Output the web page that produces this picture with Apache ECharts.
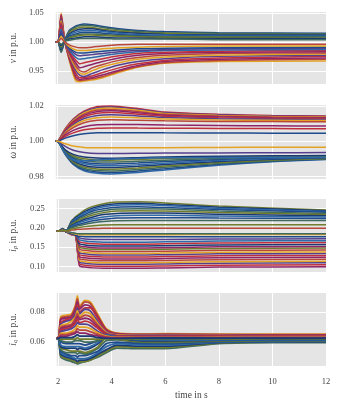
<!DOCTYPE html>
<html><head><meta charset="utf-8">
<script src="https://cdn.jsdelivr.net/npm/echarts@6/dist/echarts.min.js"></script>
<style>html,body{margin:0;padding:0;background:#fff}#c{width:341px;height:412px}</style>
</head><body><div id="c"></div>
<script>
// ---- time axes (s) ----
const xTicks = [2, 4, 6, 8, 10, 12];
const timeV  = [1.95, 2.03, 2.15, 2.28, 2.45, 2.7, 2.85, 3.0, 3.3, 3.7, 4.3, 5.0, 6.0, 8.0, 12.0];
const timeW  = [1.95, 2.05, 2.3, 2.6, 3.0, 3.5, 4.0, 5.0, 6.0, 8.0, 10.0, 12.0];
const timeIp = [1.95, 2.05, 2.15, 2.3, 2.5, 2.65, 2.72, 2.8, 3.0, 3.3, 3.7, 4.2, 5.0, 6.0, 8.0, 12.0];
const timeIq = [1.95, 2.03, 2.1, 2.3, 2.5, 2.65, 2.72, 2.8, 3.0, 3.2, 3.5, 3.8, 4.2, 5.0, 6.0, 8.0, 10.0, 12.0];

// ---- tick labels ----
const vTicks  = [0.95, 1.00, 1.05];
const wTicks  = [0.98, 1.00, 1.02];
const ipTicks = [0.10, 0.15, 0.20, 0.25];
const iqTicks = [0.06, 0.08];

// ---- v in p.u. ----
const vTraces = [
 [1.000,1.000,0.982,1.002,1.020,1.028,1.030,1.031,1.030,1.027,1.023,1.020,1.018,1.016,1.015],
 [1.000,1.000,1.050,1.003,0.968,0.932,0.931,0.932,0.934,0.938,0.947,0.956,0.963,0.966,0.967],
 [1.000,1.000,0.983,1.002,1.018,1.026,1.028,1.029,1.028,1.025,1.021,1.018,1.016,1.015,1.014],
 [1.000,1.000,1.048,1.003,0.970,0.936,0.933,0.934,0.936,0.940,0.949,0.957,0.964,0.968,0.970],
 [1.000,1.000,0.985,1.002,1.016,1.023,1.025,1.026,1.025,1.022,1.019,1.016,1.015,1.013,1.013],
 [1.000,1.000,1.046,1.002,0.972,0.940,0.935,0.936,0.938,0.943,0.951,0.959,0.966,0.970,0.972],
 [1.000,1.000,0.986,1.002,1.014,1.020,1.022,1.023,1.023,1.020,1.017,1.015,1.013,1.012,1.012],
 [1.000,1.000,1.043,1.002,0.974,0.945,0.938,0.938,0.941,0.947,0.955,0.962,0.968,0.972,0.975],
 [1.000,1.000,0.988,1.002,1.012,1.017,1.019,1.020,1.020,1.018,1.015,1.013,1.012,1.011,1.011],
 [1.000,1.000,1.040,1.002,0.976,0.950,0.942,0.940,0.945,0.952,0.960,0.966,0.971,0.975,0.977],
 [1.000,1.000,0.989,1.002,1.010,1.014,1.016,1.017,1.017,1.015,1.013,1.011,1.010,1.010,1.010],
 [1.000,1.000,1.037,1.002,0.978,0.954,0.946,0.944,0.950,0.957,0.964,0.970,0.974,0.977,0.979],
 [1.000,1.000,0.990,1.002,1.008,1.012,1.013,1.014,1.014,1.013,1.011,1.010,1.009,1.009,1.009],
 [1.000,1.000,1.034,1.001,0.980,0.958,0.950,0.948,0.955,0.961,0.968,0.973,0.977,0.980,0.981],
 [1.000,1.000,0.992,1.002,1.007,1.010,1.011,1.012,1.012,1.011,1.010,1.009,1.008,1.008,1.007],
 [1.000,1.000,1.030,1.001,0.982,0.963,0.955,0.957,0.961,0.966,0.972,0.977,0.980,0.982,0.983],
 [1.000,1.000,0.994,1.001,1.005,1.007,1.008,1.009,1.009,1.008,1.007,1.007,1.006,1.006,1.006],
 [1.000,1.000,1.026,1.001,0.984,0.968,0.962,0.964,0.967,0.971,0.976,0.980,0.982,0.984,0.985],
 [1.000,1.000,1.022,1.001,0.986,0.973,0.970,0.971,0.973,0.976,0.980,0.983,0.985,0.986,0.987],
 [1.000,1.000,1.018,1.000,0.988,0.978,0.976,0.977,0.978,0.980,0.983,0.985,0.987,0.988,0.989],
 [1.000,1.000,1.014,1.000,0.990,0.982,0.981,0.981,0.982,0.984,0.986,0.988,0.989,0.990,0.991],
 [1.000,1.000,1.010,1.000,0.992,0.986,0.985,0.985,0.986,0.988,0.990,0.991,0.992,0.993,0.993],
 [1.000,1.000,0.996,1.001,1.003,1.005,1.006,1.006,1.006,1.006,1.005,1.005,1.005,1.004,1.004],
 [1.000,1.000,1.006,1.000,0.995,0.991,0.990,0.990,0.991,0.993,0.995,0.996,0.996,0.996,0.996]
];

// ---- omega in p.u. ----
const wTraces = [
 [1.0,1.0004,1.0070,1.0125,1.0170,1.0196,1.0200,1.0185,1.0165,1.0152,1.0146,1.0143],
 [1.0,0.9994,0.9925,0.9868,0.9832,0.9817,0.9814,0.9822,0.9836,0.9863,0.9883,0.9895],
 [1.0,1.0004,1.0068,1.0121,1.0165,1.0190,1.0194,1.0180,1.0161,1.0149,1.0143,1.0140],
 [1.0,0.9994,0.9927,0.9872,0.9838,0.9825,0.9822,0.9830,0.9843,0.9868,0.9886,0.9897],
 [1.0,1.0004,1.0066,1.0117,1.0160,1.0184,1.0188,1.0175,1.0157,1.0146,1.0140,1.0137],
 [1.0,0.9995,0.9929,0.9877,0.9845,0.9833,0.9831,0.9839,0.9851,0.9873,0.9889,0.9900],
 [1.0,1.0004,1.0063,1.0112,1.0153,1.0176,1.0180,1.0168,1.0152,1.0142,1.0137,1.0134],
 [1.0,0.9995,0.9932,0.9883,0.9853,0.9842,0.9840,0.9848,0.9859,0.9878,0.9893,0.9902],
 [1.0,1.0003,1.0060,1.0107,1.0146,1.0168,1.0172,1.0161,1.0147,1.0138,1.0133,1.0131],
 [1.0,0.9995,0.9935,0.9889,0.9862,0.9851,0.9850,0.9857,0.9867,0.9884,0.9897,0.9905],
 [1.0,1.0003,1.0057,1.0101,1.0138,1.0158,1.0162,1.0153,1.0141,1.0133,1.0129,1.0127],
 [1.0,0.9996,0.9938,0.9896,0.9871,0.9861,0.9860,0.9866,0.9875,0.9890,0.9901,0.9907],
 [1.0,1.0003,1.0053,1.0094,1.0128,1.0146,1.0150,1.0143,1.0134,1.0127,1.0124,1.0122],
 [1.0,0.9996,0.9941,0.9903,0.9880,0.9871,0.9870,0.9876,0.9884,0.9896,0.9905,0.9910],
 [1.0,1.0003,1.0048,1.0086,1.0117,1.0133,1.0137,1.0132,1.0126,1.0120,1.0118,1.0117],
 [1.0,0.9996,0.9944,0.9910,0.9890,0.9882,0.9881,0.9886,0.9892,0.9902,0.9909,0.9912],
 [1.0,1.0002,1.0043,1.0077,1.0104,1.0118,1.0121,1.0118,1.0115,1.0112,1.0111,1.0110],
 [1.0,0.9997,0.9947,0.9917,0.9900,0.9893,0.9892,0.9896,0.9901,0.9908,0.9913,0.9915],
 [1.0,1.0002,1.0034,1.0061,1.0082,1.0093,1.0095,1.0094,1.0092,1.0089,1.0087,1.0086],
 [1.0,0.9997,0.9950,0.9925,0.9910,0.9904,0.9903,0.9906,0.9910,0.9914,0.9917,0.9918],
 [1.0,1.0001,1.0026,1.0047,1.0064,1.0073,1.0075,1.0074,1.0073,1.0072,1.0071,1.0070],
 [1.0,0.9997,0.9930,0.9893,0.9888,0.9893,0.9897,0.9902,0.9905,0.9907,0.9908,0.9908],
 [1.0,0.9998,0.9970,0.9948,0.9935,0.9930,0.9930,0.9931,0.9932,0.9933,0.9934,0.9935],
 [1.0,1.0001,1.0017,1.0031,1.0042,1.0047,1.0048,1.0048,1.0047,1.0046,1.0045,1.0045],
 [1.0,0.9999,0.9985,0.9972,0.9964,0.9962,0.9962,0.9963,0.9963,0.9964,0.9965,0.9965]
];

// ---- i_p in p.u. ----
const ipTraces = [
 [0.191,0.192,0.198,0.193,0.218,0.228,0.232,0.236,0.246,0.255,0.262,0.266,0.267,0.264,0.256,0.246],
 [0.191,0.192,0.193,0.190,0.182,0.179,0.140,0.102,0.099,0.097,0.096,0.096,0.096,0.097,0.099,0.100],
 [0.191,0.192,0.198,0.193,0.216,0.226,0.229,0.233,0.242,0.251,0.258,0.262,0.263,0.260,0.253,0.244],
 [0.191,0.192,0.193,0.190,0.183,0.180,0.142,0.107,0.104,0.102,0.101,0.101,0.101,0.102,0.104,0.105],
 [0.191,0.192,0.197,0.193,0.214,0.223,0.226,0.230,0.238,0.247,0.254,0.258,0.259,0.257,0.250,0.242],
 [0.191,0.192,0.193,0.190,0.183,0.180,0.145,0.112,0.109,0.107,0.106,0.106,0.106,0.107,0.109,0.110],
 [0.191,0.192,0.197,0.193,0.212,0.220,0.223,0.227,0.234,0.243,0.249,0.253,0.254,0.252,0.247,0.240],
 [0.191,0.192,0.193,0.190,0.183,0.180,0.147,0.116,0.113,0.111,0.110,0.110,0.110,0.111,0.113,0.114],
 [0.191,0.192,0.197,0.193,0.210,0.217,0.220,0.224,0.230,0.238,0.244,0.248,0.249,0.248,0.243,0.237],
 [0.191,0.192,0.193,0.190,0.183,0.181,0.150,0.121,0.118,0.116,0.115,0.115,0.115,0.116,0.118,0.119],
 [0.191,0.192,0.196,0.193,0.208,0.214,0.217,0.220,0.226,0.233,0.239,0.243,0.244,0.243,0.239,0.234],
 [0.191,0.192,0.193,0.190,0.184,0.181,0.153,0.126,0.123,0.121,0.120,0.120,0.120,0.121,0.123,0.124],
 [0.191,0.192,0.196,0.193,0.206,0.211,0.214,0.216,0.222,0.228,0.234,0.237,0.238,0.238,0.235,0.231],
 [0.191,0.192,0.193,0.190,0.184,0.181,0.155,0.131,0.128,0.126,0.125,0.125,0.125,0.126,0.128,0.129],
 [0.191,0.192,0.196,0.193,0.204,0.209,0.211,0.213,0.218,0.223,0.228,0.231,0.232,0.232,0.230,0.228],
 [0.191,0.192,0.193,0.190,0.184,0.182,0.158,0.136,0.133,0.131,0.130,0.130,0.130,0.131,0.133,0.134],
 [0.191,0.192,0.195,0.193,0.202,0.206,0.208,0.209,0.213,0.218,0.222,0.225,0.226,0.226,0.225,0.224],
 [0.191,0.192,0.193,0.190,0.184,0.182,0.160,0.140,0.137,0.135,0.134,0.134,0.134,0.135,0.137,0.138],
 [0.191,0.192,0.195,0.193,0.200,0.203,0.205,0.206,0.209,0.213,0.216,0.218,0.219,0.219,0.219,0.219],
 [0.191,0.192,0.193,0.190,0.185,0.182,0.163,0.145,0.142,0.140,0.139,0.139,0.139,0.140,0.142,0.143],
 [0.191,0.192,0.193,0.190,0.185,0.183,0.166,0.150,0.147,0.145,0.144,0.144,0.144,0.145,0.147,0.148],
 [0.191,0.192,0.193,0.190,0.185,0.183,0.168,0.154,0.151,0.149,0.148,0.148,0.148,0.149,0.151,0.152],
 [0.191,0.192,0.193,0.190,0.185,0.183,0.170,0.159,0.156,0.154,0.153,0.153,0.153,0.154,0.156,0.157],
 [0.191,0.192,0.193,0.190,0.186,0.184,0.173,0.164,0.161,0.159,0.158,0.158,0.158,0.159,0.161,0.162],
 [0.191,0.192,0.193,0.190,0.186,0.184,0.176,0.169,0.166,0.164,0.163,0.163,0.163,0.164,0.166,0.167],
 [0.191,0.192,0.193,0.190,0.186,0.184,0.178,0.174,0.171,0.170,0.170,0.170,0.170,0.170,0.171,0.172],
 [0.191,0.192,0.193,0.190,0.185,0.181,0.179,0.178,0.177,0.177,0.177,0.177,0.177,0.177,0.177,0.177],
 [0.191,0.192,0.193,0.191,0.187,0.184,0.183,0.182,0.182,0.182,0.182,0.182,0.182,0.182,0.183,0.183],
 [0.191,0.192,0.193,0.191,0.188,0.186,0.185,0.185,0.185,0.185,0.185,0.185,0.185,0.185,0.185,0.185],
 [0.191,0.192,0.194,0.192,0.194,0.195,0.196,0.196,0.197,0.198,0.199,0.199,0.199,0.199,0.199,0.199],
 [0.191,0.192,0.194,0.192,0.197,0.199,0.200,0.201,0.203,0.205,0.207,0.208,0.208,0.208,0.208,0.208]
];

// ---- i_q in p.u. ----
const iqTraces = [
 [0.0625,0.0640,0.077,0.078,0.079,0.085,0.091,0.084,0.088,0.087,0.078,0.0690,0.0660,0.0655,0.0656,0.0654,0.0653,0.0653],
 [0.0625,0.0614,0.050,0.048,0.047,0.046,0.0455,0.046,0.047,0.048,0.050,0.0530,0.0560,0.0556,0.0557,0.0590,0.0597,0.0597],
 [0.0625,0.0640,0.076,0.077,0.078,0.084,0.089,0.083,0.087,0.086,0.077,0.0685,0.0658,0.0652,0.0653,0.0651,0.0650,0.0650],
 [0.0625,0.0615,0.051,0.049,0.048,0.047,0.046,0.047,0.047,0.048,0.051,0.0540,0.0570,0.0565,0.0565,0.0594,0.0600,0.0600],
 [0.0625,0.0638,0.075,0.076,0.077,0.082,0.087,0.082,0.085,0.084,0.076,0.0680,0.0655,0.0650,0.0650,0.0649,0.0648,0.0648],
 [0.0625,0.0616,0.052,0.050,0.049,0.048,0.047,0.048,0.048,0.049,0.052,0.0550,0.0580,0.0573,0.0573,0.0597,0.0602,0.0602],
 [0.0625,0.0636,0.073,0.075,0.076,0.080,0.085,0.080,0.083,0.083,0.075,0.0675,0.0652,0.0648,0.0648,0.0647,0.0646,0.0646],
 [0.0625,0.0617,0.053,0.051,0.050,0.049,0.049,0.049,0.049,0.050,0.053,0.0570,0.0590,0.0582,0.0582,0.0600,0.0604,0.0605],
 [0.0625,0.0635,0.072,0.074,0.075,0.079,0.083,0.079,0.082,0.081,0.073,0.0670,0.0650,0.0646,0.0646,0.0645,0.0644,0.0644],
 [0.0625,0.0618,0.054,0.052,0.051,0.051,0.050,0.051,0.051,0.052,0.054,0.0590,0.0600,0.0592,0.0590,0.0603,0.0606,0.0607],
 [0.0625,0.0634,0.071,0.072,0.074,0.077,0.081,0.077,0.080,0.079,0.072,0.0665,0.0648,0.0644,0.0644,0.0643,0.0642,0.0642],
 [0.0625,0.0619,0.055,0.053,0.053,0.053,0.052,0.053,0.052,0.053,0.056,0.0610,0.0615,0.0600,0.0597,0.0606,0.0609,0.0609],
 [0.0625,0.0633,0.070,0.071,0.072,0.076,0.079,0.076,0.078,0.077,0.071,0.0660,0.0645,0.0642,0.0642,0.0641,0.0640,0.0640],
 [0.0625,0.0620,0.056,0.055,0.054,0.054,0.054,0.054,0.053,0.054,0.057,0.0630,0.0620,0.0605,0.0603,0.0609,0.0611,0.0611],
 [0.0625,0.0632,0.069,0.070,0.071,0.074,0.077,0.075,0.076,0.075,0.070,0.0655,0.0642,0.0640,0.0640,0.0639,0.0638,0.0638],
 [0.0625,0.0621,0.057,0.056,0.056,0.056,0.055,0.056,0.055,0.056,0.059,0.0640,0.0630,0.0610,0.0608,0.0612,0.0613,0.0613],
 [0.0625,0.0631,0.068,0.069,0.070,0.073,0.075,0.073,0.074,0.073,0.069,0.0650,0.0640,0.0638,0.0638,0.0637,0.0636,0.0636],
 [0.0625,0.0622,0.058,0.057,0.057,0.057,0.057,0.057,0.056,0.057,0.060,0.0650,0.0635,0.0614,0.0613,0.0615,0.0615,0.0615],
 [0.0625,0.0630,0.067,0.068,0.069,0.071,0.073,0.072,0.072,0.071,0.067,0.0645,0.0637,0.0636,0.0636,0.0635,0.0634,0.0634],
 [0.0625,0.0623,0.060,0.059,0.059,0.059,0.059,0.059,0.058,0.059,0.061,0.0640,0.0630,0.0617,0.0618,0.0618,0.0618,0.0618],
 [0.0625,0.0630,0.066,0.066,0.067,0.069,0.071,0.070,0.070,0.069,0.066,0.0640,0.0634,0.0634,0.0634,0.0633,0.0632,0.0632],
 [0.0625,0.0624,0.061,0.060,0.060,0.061,0.061,0.061,0.060,0.060,0.061,0.0630,0.0625,0.0620,0.0622,0.0621,0.0621,0.0621],
 [0.0625,0.0629,0.065,0.065,0.066,0.067,0.069,0.068,0.068,0.067,0.065,0.0635,0.0631,0.0632,0.0632,0.0631,0.0630,0.0630],
 [0.0625,0.0625,0.062,0.062,0.062,0.062,0.063,0.062,0.062,0.062,0.062,0.0622,0.0622,0.0624,0.0625,0.0624,0.0624,0.0624],
 [0.0625,0.0628,0.064,0.064,0.065,0.066,0.067,0.066,0.066,0.065,0.064,0.0630,0.0628,0.0630,0.0630,0.0629,0.0628,0.0628],
 [0.0625,0.0627,0.063,0.063,0.063,0.064,0.065,0.064,0.064,0.064,0.063,0.0625,0.0625,0.0627,0.0628,0.0627,0.0626,0.0626]
];

// ---- styling ----
const palette = ['#1f4a8c','#c0303c','#6f7d2c','#e3a426','#2f6aa8','#8e2468','#3f6a5e','#54408e','#1b3a73','#b8463a'];
const FONT = '"Liberation Serif", "DejaVu Serif", serif';
const TXT = '#444';

const panels = [
  {time: timeV,  traces: vTraces,  min: 0.927,  max: 1.052,  ticks: vTicks,  name: '{i|v} in p.u.',      top: 12,  height: 72},
  {time: timeW,  traces: wTraces,  min: 0.9785, max: 1.0205, ticks: wTicks,  name: '{i|ω} in p.u.',      top: 105, height: 74},
  {time: timeIp, traces: ipTraces, min: 0.0864, max: 0.274,  ticks: ipTicks, name: '{i|i}{s|p} in p.u.', top: 199, height: 73},
  {time: timeIq, traces: iqTraces, min: 0.044,  max: 0.0929, ticks: iqTicks, name: '{i|i}{s|q} in p.u.', top: 293, height: 73}
];

const grid = [], xAxis = [], yAxis = [], series = [];
panels.forEach((p, pi) => {
  grid.push({left: 53, right: 15, top: p.top, height: p.height, show: true,
             backgroundColor: '#E5E5E5', borderWidth: 0, containLabel: false});
  const last = pi === panels.length - 1;
  xAxis.push({
    type: 'value', gridIndex: pi, min: 1.95, max: 12,
    axisLine: {show: false},
    axisTick: {show: false, customValues: xTicks},
    axisLabel: {show: last, customValues: xTicks, margin: 11, color: TXT, fontFamily: FONT, fontSize: 8.5},
    splitLine: {show: true, lineStyle: {color: '#ffffff', width: 1}},
    name: last ? 'time in s' : '', nameLocation: 'middle', nameGap: 24,
    nameTextStyle: {color: TXT, fontFamily: FONT, fontSize: 9.5}
  });
  yAxis.push({
    type: 'value', gridIndex: pi, min: p.min, max: p.max,
    axisLine: {show: false},
    axisTick: {show: false, customValues: p.ticks},
    axisLabel: {customValues: p.ticks, margin: 12, color: TXT, fontFamily: FONT, fontSize: 8.5,
                formatter: v => v.toFixed(2)},
    splitLine: {show: true, lineStyle: {color: '#ffffff', width: 1}},
    name: p.name, nameLocation: 'middle', nameRotate: 90, nameGap: 32,
    nameTextStyle: {color: TXT, fontFamily: FONT, fontSize: 9.5,
      rich: {
        i: {fontStyle: 'italic', fontFamily: FONT, fontSize: 9.5, color: TXT},
        s: {fontStyle: 'italic', fontFamily: FONT, fontSize: 6.5, color: TXT, padding: [5, 0, 0, 0]}
      }}
  });
  p.traces.forEach((tr, k) => {
    series.push({
      type: 'line', xAxisIndex: pi, yAxisIndex: pi,
      data: p.time.map((t, j) => [t, tr[j]]),
      showSymbol: false, symbol: 'none', smooth: 0.25, clip: true, silent: true,
      lineStyle: {width: pi === 3 ? 1.8 : 1.5, color: palette[(k * 3 + pi) % palette.length]}
    });
  });
});

const chart = echarts.init(document.getElementById('c'), null, {renderer: 'canvas'});
chart.setOption({animation: false, grid, xAxis, yAxis, series});
</script>
</body></html>
